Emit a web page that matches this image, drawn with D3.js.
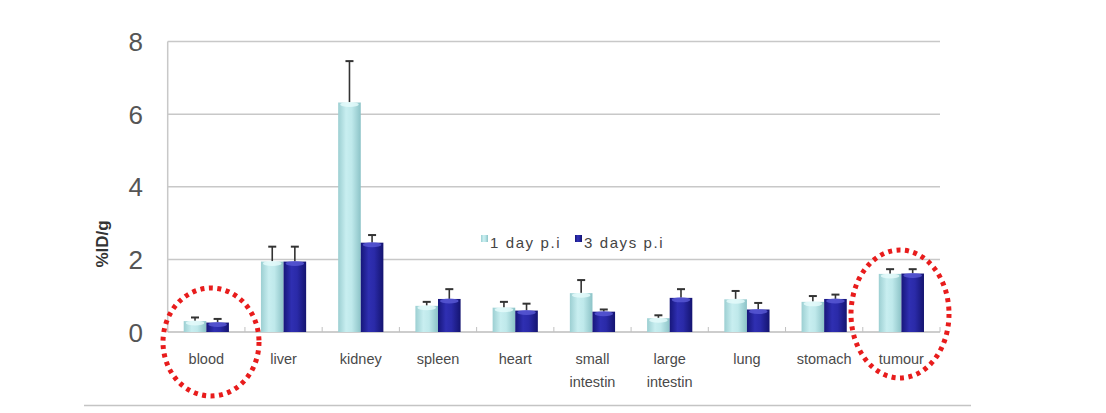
<!DOCTYPE html>
<html><head><meta charset="utf-8">
<script src="https://cdn.jsdelivr.net/npm/d3@7"></script>
<style>body{margin:0;background:#fff}svg{display:block}</style>
</head><body>
<svg id="c" width="1106" height="413"></svg>
<script>
const categories = ["blood","liver","kidney","spleen","heart","small\nintestin","large\nintestin","lung","stomach","tumour"];
const series = ["1 day p.i","3 days p.i"];
const day1 = [0.30,1.94,6.32,0.72,0.67,1.07,0.38,0.90,0.83,1.60];
const day1Err = [0.10,0.41,1.14,0.11,0.16,0.36,0.08,0.23,0.16,0.13];
const day3 = [0.26,1.94,2.46,0.91,0.59,0.56,0.94,0.62,0.91,1.61];
const day3Err = [0.10,0.41,0.21,0.27,0.19,0.06,0.24,0.18,0.12,0.12];
const yTicks = [0,2,4,6,8];
const highlighted = ["blood","tumour"];

const svg = d3.select("#c");
const L = 167.7, R = 940, T = 41.5, B = 332;
const x = d3.scaleBand().domain(categories).range([L, R]);
const y = d3.scaleLinear().domain([0, 8]).range([B, T]);
const bw = x.bandwidth();
const x1 = d3.scaleBand().domain(series).range([bw/2 - 22.6, bw/2 + 22.6]);

const defs = svg.append("defs");
function grad(id, stops){
  const g = defs.append("linearGradient").attr("id", id).attr("x1","0").attr("x2","1").attr("y1","0").attr("y2","0");
  stops.forEach(s => g.append("stop").attr("offset", s[0]).attr("stop-color", s[1]));
}
grad("gc", [[0,"#9ccfd2"],[0.35,"#c8eef0"],[0.6,"#bfe9eb"],[1,"#8cc3c7"]]);
grad("gb", [[0,"#16167a"],[0.35,"#2f2fb2"],[0.6,"#2a2aa8"],[1,"#141470"]]);
const fills = {"1 day p.i":"url(#gc)","3 days p.i":"url(#gb)"};
const tops = {"1 day p.i":"#e6fbfb","3 days p.i":"#5a5ad6"};

// gridlines
svg.append("g").selectAll("line").data(yTicks.filter(d=>d>0)).join("line")
  .attr("x1", L).attr("x2", R).attr("y1", d=>y(d)).attr("y2", d=>y(d))
  .attr("stroke", "#c8c8c8").attr("stroke-width", 1.5);
// axes lines
svg.append("line").attr("x1",L).attr("x2",L).attr("y1",T).attr("y2",B).attr("stroke","#c8c8c8").attr("stroke-width",1.5);
svg.append("line").attr("x1",L).attr("x2",R).attr("y1",B).attr("y2",B).attr("stroke","#bdbdbd").attr("stroke-width",1.5);
// small category ticks
svg.append("g").selectAll("line").data(categories.slice(1).concat([null])).join("line")
  .attr("x1", (d,i)=> i < categories.length-1 ? x(d) : R).attr("x2", (d,i)=> i < categories.length-1 ? x(d) : R)
  .attr("y1", B-5).attr("y2", B).attr("stroke","#c0c0c0").attr("stroke-width",1);

// y tick labels
svg.append("g").selectAll("text").data(yTicks).join("text")
  .attr("x", 143).attr("y", d=>y(d)+9.5).attr("text-anchor","end")
  .attr("font-family","Liberation Sans, Arial, sans-serif").attr("font-size",26).attr("fill","#555")
  .text(d=>d);
// y title
svg.append("text").attr("transform","translate(108,244) rotate(-90)").attr("text-anchor","middle")
  .attr("font-family","Liberation Sans, Arial, sans-serif").attr("font-size",17).attr("font-weight","bold").attr("fill","#333")
  .text("%ID/g");

// bars
const rows = categories.map((c,i)=>({c, vals:[
  {s:series[0], v:day1[i], e:day1Err[i]},
  {s:series[1], v:day3[i], e:day3Err[i]}]}));
const gCat = svg.append("g").selectAll("g").data(rows).join("g").attr("transform", d=>`translate(${x(d.c)},0)`);
const gBar = gCat.selectAll("g").data(d=>d.vals).join("g");
// error bars
gBar.append("line").attr("x1", d=>x1(d.s)+x1.bandwidth()/2).attr("x2", d=>x1(d.s)+x1.bandwidth()/2)
  .attr("y1", d=>y(d.v)).attr("y2", d=>y(d.v+d.e)).attr("stroke","#333").attr("stroke-width",1.6);
gBar.append("line").attr("x1", d=>x1(d.s)+x1.bandwidth()/2-4).attr("x2", d=>x1(d.s)+x1.bandwidth()/2+4)
  .attr("y1", d=>y(d.v+d.e)).attr("y2", d=>y(d.v+d.e)).attr("stroke","#333").attr("stroke-width",2);
gBar.append("rect").attr("x", d=>x1(d.s)).attr("width", x1.bandwidth())
  .attr("y", d=>y(d.v)).attr("height", d=>B-y(d.v)).attr("fill", d=>fills[d.s]);
gBar.append("ellipse").attr("cx", d=>x1(d.s)+x1.bandwidth()/2).attr("cy", d=>y(d.v)+2)
  .attr("rx", x1.bandwidth()/2-2).attr("ry", 2.5).attr("fill", d=>tops[d.s]).attr("opacity",0.8);

// category labels
const lab = svg.append("g").selectAll("text").data(categories).join("text")
  .attr("x", d=>x(d)+bw/2).attr("y", 364).attr("text-anchor","middle")
  .attr("font-family","Liberation Sans, Arial, sans-serif").attr("font-size",14.5).attr("fill","#4a4a4a");
lab.each(function(d){
  const t = d3.select(this);
  d.split("\n").forEach((s,i)=> t.append("tspan").attr("x", x(d)+bw/2).attr("dy", i?22.5:0).text(s));
});

// legend
const leg = svg.append("g").attr("transform","translate(481,243)");
const lx = [0, 94];
series.forEach((s,i)=>{
  const g = leg.append("g").attr("transform",`translate(${lx[i]},0)`);
  g.append("rect").attr("x",0).attr("y",-8).attr("width",7).attr("height",7).attr("fill", fills[s]);
  g.append("text").attr("x",9).attr("y",5).attr("font-family","Liberation Sans, Arial, sans-serif")
    .attr("font-size",15).attr("letter-spacing",1.6).attr("fill","#444").text(s);
});

// red dotted highlight ellipses
const ell = {blood:[211,342,48,54], tumour:[900,314,49,64]};
svg.append("g").selectAll("ellipse").data(highlighted).join("ellipse")
  .attr("cx", d=>ell[d][0]).attr("cy", d=>ell[d][1]).attr("rx", d=>ell[d][2]).attr("ry", d=>ell[d][3])
  .attr("fill","none").attr("stroke","#e81c1c").attr("stroke-width",5)
  .attr("stroke-dasharray","4 4.5");

// bottom rule
svg.append("line").attr("x1",84).attr("x2",971).attr("y1",405.5).attr("y2",405.5).attr("stroke","#c4c4c4").attr("stroke-width",1.5);
</script>
</body></html>
